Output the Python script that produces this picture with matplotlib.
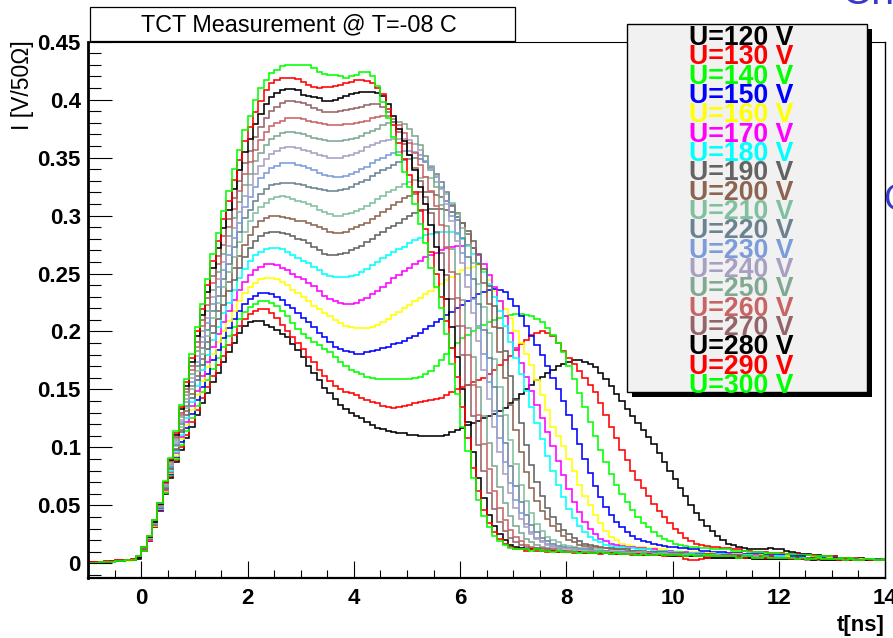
import numpy as np
import matplotlib
matplotlib.use("Agg")
import matplotlib.pyplot as plt
from matplotlib.patches import Rectangle
from matplotlib.ticker import MultipleLocator, FixedLocator, FuncFormatter

plt.rcParams['font.family'] = ['Liberation Sans', 'DejaVu Sans']

# ---- data: current I [mV/50Ohm] in 0.1 ns bins from t=-1.0 to 14.0 ns ----
t_start = -1.0
bin_width = 0.1
voltages = [120, 130, 140, 150, 160, 170, 180, 190, 200, 210, 220, 230, 240, 250, 260, 270, 280, 290, 300]

u120 = [0,1,1,1,2,2,2,3,3,4,
        11,19,31,45,60,74,87,98,108,118,
        128,138,147,156,164,174,182,190,199,205,
        208,209,209,206,204,201,198,195,189,184,
        178,170,164,158,151,147,142,137,133,130,
        127,125,122,119,117,116,114,113,112,112,
        111,111,110,110,110,110,110,111,113,115,
        117,119,121,123,125,127,129,131,134,138,
        142,146,150,154,158,161,164,167,170,172,
        174,175,175,174,172,169,164,159,153,146,
        140,133,127,121,115,109,103,95,87,80,
        73,65,58,50,43,37,32,28,24,20,
        17,16,14,13,12,12,12,12,13,12,
        12,11,10,9,8,8,7,7,6,6,
        6,5,5,5,4,5,4,4,4,4]
u130 = [1,1,1,2,2,3,3,3,4,5,
        11,19,31,45,61,75,89,100,111,122,
        132,143,152,162,171,179,188,197,205,211,
        215,218,219,219,216,212,206,200,195,190,
        185,178,174,167,162,157,153,150,148,147,
        145,143,141,139,138,136,135,134,135,136,
        137,138,139,140,141,142,143,145,148,150,
        152,154,156,158,160,163,167,171,175,179,
        184,189,193,197,199,200,199,196,190,183,
        177,172,166,160,154,148,138,128,118,108,
        98,89,80,72,65,58,51,45,40,35,
        30,26,22,19,17,16,15,14,14,13,
        13,12,12,11,11,10,10,10,9,9,
        9,8,8,8,7,7,7,6,6,6,
        6,5,5,5,5,4,4,4,4,4]
u140 = [0,0,1,1,2,2,2,3,3,5,
        11,20,32,46,61,76,90,102,114,125,
        136,148,158,168,177,187,196,204,211,217,
        221,224,226,226,225,222,218,213,207,202,
        198,194,191,188,185,182,178,174,170,167,
        165,163,161,160,159,159,159,159,159,159,
        159,160,161,163,166,170,175,181,186,190,
        194,197,200,203,206,208,210,212,213,214,
        215,215,214,213,211,208,203,197,190,182,
        170,159,147,135,122,110,98,87,77,68,
        60,53,46,40,35,31,27,24,21,19,
        17,16,15,14,14,13,13,12,12,12,
        12,11,11,11,10,10,10,9,9,9,
        8,8,8,7,7,7,6,6,6,6,
        5,5,5,5,4,4,4,4,4,4]
u150 = [1,0,1,1,1,2,2,3,3,5,
        12,20,32,46,62,77,92,105,117,129,
        141,152,163,175,184,194,203,211,218,224,
        228,231,233,233,232,230,227,223,220,216,
        212,208,204,199,195,191,187,185,183,182,
        181,181,182,183,184,186,187,189,190,192,
        194,196,199,202,205,208,211,214,217,220,
        223,226,229,232,234,236,237,236,234,228,
        222,213,205,196,188,180,170,160,150,140,
        128,116,103,90,78,67,57,49,42,36,
        31,27,24,21,19,18,17,16,15,14,
        14,13,13,12,12,11,11,10,10,10,
        9,9,9,8,8,8,8,7,7,7,
        7,6,6,6,6,5,5,5,5,5,
        5,4,4,4,4,4,4,3,4,3]
u160 = [0,1,1,1,2,2,3,2,3,5,
        12,20,32,47,62,78,93,107,119,132,
        145,157,169,181,191,200,209,218,226,233,
        238,242,245,246,246,245,243,240,236,233,
        230,226,222,219,216,213,210,207,205,204,
        203,203,203,204,206,208,211,214,217,220,
        223,226,229,232,235,238,241,244,247,250,
        253,255,256,257,252,244,235,226,219,212,
        200,190,181,171,158,145,132,118,110,101,
        90,80,68,58,50,42,35,28,23,20,
        17,16,15,14,14,13,13,12,12,11,
        11,11,10,10,10,9,9,9,8,8,
        8,8,8,7,7,7,7,6,6,6,
        6,6,5,5,5,5,5,4,4,5,
        4,4,4,4,3,4,3,3,3,3]
u170 = [1,1,1,2,2,2,3,3,3,5,
        12,20,33,47,63,79,95,109,122,136,
        149,162,174,187,198,208,218,227,236,243,
        249,253,256,258,258,257,255,253,250,247,
        245,242,239,235,231,228,226,225,224,224,
        225,227,229,232,235,238,242,246,249,252,
        255,258,261,264,266,268,270,272,273,274,
        274,275,272,266,258,249,238,226,213,199,
        186,173,161,149,137,125,113,101,88,76,
        64,53,44,36,30,25,21,19,17,16,
        15,14,14,13,13,12,12,11,11,11,
        10,10,10,9,9,9,8,8,8,8,
        8,7,7,7,7,7,6,6,6,6,
        6,5,5,5,5,5,5,4,4,4,
        4,4,4,4,3,3,4,3,3,3]
u180 = [0,1,1,2,2,2,3,3,3,5,
        12,21,33,47,64,80,96,111,125,139,
        153,167,180,193,204,216,225,236,246,254,
        261,266,269,271,272,272,271,269,266,263,
        261,259,256,253,250,248,247,247,247,248,
        249,251,254,257,260,263,266,269,271,273,
        276,279,281,283,284,285,286,286,286,284,
        280,274,267,259,251,241,230,218,205,191,
        177,163,149,135,121,107,93,80,68,57,
        47,39,32,27,23,20,18,16,15,14,
        14,13,13,12,12,12,11,11,11,10,
        10,10,9,9,9,9,8,8,8,8,
        7,7,7,7,7,6,6,6,6,6,
        6,5,5,5,5,5,4,5,4,4,
        4,4,4,3,4,3,3,4,3,3]
u190 = [1,1,1,1,2,2,2,3,3,5,
        12,21,33,48,64,81,98,113,128,143,
        158,171,185,199,211,223,235,244,255,264,
        272,278,282,285,286,286,285,284,282,280,
        279,276,273,270,267,266,266,267,268,270,
        272,274,277,280,283,286,289,291,294,297,
        300,302,304,305,306,306,306,305,303,299,
        294,287,278,267,254,239,222,203,183,162,
        141,121,102,85,70,58,48,40,34,29,
        25,22,19,17,16,15,14,13,13,12,
        12,12,11,11,11,10,10,10,10,9,
        9,9,9,8,8,8,8,8,7,7,
        7,7,7,6,6,6,6,6,6,5,
        5,5,5,5,5,5,4,4,4,4,
        4,4,4,3,4,3,3,3,4,3]
u200 = [1,0,1,1,2,2,3,3,3,5,
        12,21,34,48,65,82,99,115,131,146,
        162,176,191,205,218,231,243,255,265,275,
        283,290,295,298,300,300,299,298,297,295,
        295,294,292,290,288,286,285,285,286,288,
        290,292,294,297,300,303,306,309,312,315,
        317,319,320,320,320,318,316,313,308,302,
        294,284,272,258,242,224,204,182,160,137,
        115,96,79,65,54,45,38,32,28,24,
        20,18,16,15,14,14,13,13,12,12,
        12,11,11,11,10,10,10,10,9,9,
        9,9,8,8,8,8,8,7,7,7,
        7,7,6,6,6,6,6,6,5,5,
        5,5,5,5,5,4,4,4,4,4,
        4,4,3,4,3,3,3,3,3,3]
u210 = [0,1,1,1,1,2,2,3,3,5,
        13,22,34,49,66,83,101,118,134,150,
        166,181,196,212,225,238,251,264,277,286,
        295,302,307,311,314,316,317,316,314,313,
        312,310,308,305,303,301,300,300,301,302,
        304,306,308,311,314,317,320,322,325,327,
        329,331,332,333,332,329,325,319,311,301,
        289,275,259,241,221,199,176,152,128,106,
        86,68,54,43,34,28,23,20,18,16,
        15,14,13,13,12,12,12,11,11,11,
        11,10,10,10,10,9,9,9,9,8,
        8,8,8,8,7,7,7,7,7,6,
        6,6,6,6,6,6,5,5,5,5,
        5,5,5,4,5,4,4,4,4,4,
        4,3,4,3,3,3,3,3,3,3]
u220 = [1,1,1,2,2,2,3,3,3,5,
        13,22,34,49,66,83,102,120,136,153,
        170,186,201,218,231,245,258,273,286,298,
        305,313,319,323,326,327,328,328,328,327,
        326,325,324,323,322,321,321,322,323,325,
        327,329,331,334,337,339,341,344,346,348,
        349,350,349,346,342,336,329,320,309,296,
        281,264,245,224,201,177,152,127,104,84,
        67,53,42,33,27,22,19,17,15,14,
        13,13,12,12,12,11,11,11,10,10,
        10,10,10,9,9,9,9,8,8,8,
        8,8,7,7,7,7,7,6,6,6,
        6,6,6,6,5,5,5,5,5,5,
        5,5,4,4,4,4,4,4,4,4,
        4,3,3,3,3,3,3,3,3,3]
u230 = [0,1,1,1,2,2,2,3,3,5,
        13,22,35,49,67,84,103,122,139,156,
        174,191,207,224,238,253,266,281,294,307,
        316,325,332,337,341,343,345,345,345,344,
        343,341,339,337,335,334,333,333,334,336,
        338,340,342,345,348,350,352,354,355,356,
        356,355,352,347,341,333,324,313,300,285,
        268,249,228,205,181,156,131,108,87,69,
        55,43,34,27,22,19,17,15,14,13,
        13,12,12,12,11,11,11,10,10,10,
        10,9,9,9,9,9,8,8,8,8,
        8,7,7,7,7,7,6,6,6,6,
        6,6,5,5,5,5,5,5,5,5,
        4,4,4,4,4,4,4,4,4,4,
        3,3,3,3,3,3,3,3,3,3]
u240 = [1,1,1,1,2,2,3,3,3,5,
        13,22,35,50,67,85,105,124,142,160,
        179,195,212,230,245,260,274,289,303,317,
        326,336,343,349,353,356,358,359,359,358,
        357,356,354,352,351,350,350,350,351,352,
        354,356,359,361,363,364,365,366,366,366,
        365,362,357,351,343,334,323,310,295,278,
        259,238,216,192,167,142,118,96,77,61,
        48,38,31,25,21,18,16,14,13,12,
        12,12,11,11,11,10,10,10,10,9,
        9,9,9,9,8,8,8,8,8,7,
        7,7,7,7,7,6,6,6,6,6,
        6,5,5,5,5,5,5,5,4,4,
        4,4,4,4,4,4,4,4,3,4,
        3,3,3,3,3,3,3,3,3,3]
u250 = [1,0,1,1,2,2,2,3,3,5,
        13,23,35,50,68,86,106,126,145,163,
        183,200,218,236,251,267,282,298,312,326,
        336,347,354,361,366,369,371,372,372,371,
        370,369,367,366,365,364,364,364,365,366,
        367,369,371,373,375,378,380,381,381,379,
        375,369,361,351,339,325,309,291,271,250,
        227,203,178,152,127,104,84,66,52,41,
        32,26,21,18,16,14,13,12,12,11,
        11,11,10,10,10,10,9,9,9,9,
        9,8,8,8,8,8,7,7,7,7,
        7,7,6,6,6,6,6,6,5,5,
        5,5,5,5,5,5,4,4,4,4,
        4,4,4,4,4,4,4,3,4,3,
        3,3,3,3,3,3,3,3,3,3]
u260 = [1,1,1,2,2,2,3,3,4,5,
        13,23,36,50,69,87,108,128,148,167,
        187,205,223,242,258,275,290,306,321,336,
        346,357,365,372,377,380,382,384,384,384,
        383,382,381,380,379,378,378,378,379,379,
        380,381,382,384,385,386,386,383,378,371,
        363,354,344,333,321,308,292,273,251,229,
        205,180,154,128,103,81,62,48,37,29,
        23,19,16,14,13,13,12,12,11,11,
        11,10,10,10,10,9,9,9,9,9,
        8,8,8,8,8,7,7,7,7,7,
        7,6,6,6,6,6,6,5,5,5,
        5,5,5,5,5,5,4,4,4,4,
        4,4,4,4,4,4,3,4,3,3,
        3,3,3,3,3,3,3,3,3,3]
u270 = [0,1,1,1,2,2,2,3,3,5,
        13,23,36,51,69,88,109,130,150,170,
        191,210,229,248,265,282,297,315,330,345,
        356,368,376,384,390,394,397,399,399,398,
        397,395,393,391,389,389,389,390,391,392,
        393,394,395,396,396,394,389,381,372,362,
        352,341,330,316,302,286,268,249,228,205,
        180,154,127,102,80,61,47,36,28,22,
        18,16,14,13,13,12,12,11,11,11,
        10,10,10,10,9,9,9,9,9,8,
        8,8,8,8,7,7,7,7,7,7,
        6,6,6,6,6,6,5,5,5,5,
        5,5,5,5,5,4,4,4,4,4,
        4,4,4,4,4,3,4,3,3,3,
        3,3,3,3,3,3,3,3,3,3]
u280 = [1,0,1,1,2,2,2,3,3,5,
        14,23,36,51,70,89,111,133,153,174,
        196,214,234,255,272,289,305,323,339,355,
        366,379,388,396,402,406,408,409,409,408,
        404,403,402,401,399,399,400,401,403,405,
        406,407,407,407,406,403,396,386,375,364,
        352,339,325,310,292,273,253,228,204,178,
        150,122,96,74,56,42,32,25,20,16,
        14,13,12,12,12,11,11,11,10,10,
        10,10,10,9,9,9,9,9,8,8,
        8,8,8,7,7,7,7,7,7,6,
        6,6,6,6,6,6,5,5,5,5,
        5,5,5,5,5,4,4,4,4,4,
        4,4,4,4,4,4,3,4,3,3,
        3,3,3,3,3,3,3,3,3,3]
u290 = [1,1,1,2,2,3,3,3,4,6,
        14,24,37,52,70,90,112,135,156,177,
        200,219,240,261,278,297,313,331,348,364,
        376,389,399,408,414,417,419,419,419,418,
        415,413,411,410,411,411,412,413,414,415,
        417,417,416,414,410,405,392,378,363,349,
        335,320,305,288,269,250,230,209,186,161,
        135,108,82,62,46,35,27,21,17,14,
        12,12,11,12,11,11,10,11,10,10,
        10,9,10,9,9,9,8,9,9,8,
        8,8,7,8,7,8,7,7,6,7,
        7,6,4,3,3,4,5,6,6,6,
        6,6,6,5,6,5,5,5,6,5,
        5,5,4,5,4,4,5,4,4,4,
        4,3,4,3,3,3,4,3,3,3]
u300 = [0,0,1,1,1,2,2,3,3,6,
        14,24,37,52,71,91,114,137,159,181,
        204,224,245,267,285,304,321,340,357,374,
        386,400,410,417,423,426,429,430,430,430,
        430,430,427,424,422,421,421,420,419,420,
        421,424,424,420,412,398,384,368,352,338,
        325,310,293,276,255,238,220,198,172,146,
        118,97,74,55,41,31,24,19,16,13,
        12,12,12,11,12,11,11,10,11,10,
        10,10,9,10,9,9,10,9,8,9,
        8,8,8,7,8,7,7,8,7,7,
        7,7,6,7,6,6,7,6,6,6,
        6,6,5,6,6,5,5,6,5,5,
        5,5,5,4,5,4,4,5,4,4,
        4,4,3,4,3,3,4,4,3,3]

series = [u120, u130, u140, u150, u160, u170, u180, u190, u200, u210,
          u220, u230, u240, u250, u260, u270, u280, u290, u300]
colors = ['#000000', '#ff0000', '#00ff00', '#0000ff', '#ffff00', '#ff00ff', '#00ffff',
          '#636363', '#8c6450', '#80c0a0', '#6b8290', '#7b9bd9', '#a8a0c2', '#80a892',
          '#c86464', '#946468', '#000000', '#ff0000', '#00ff00']
labels = ['U=%d V' % v for v in voltages]

title_text = 'TCT Measurement @ T=-08 C'
xlabel_text = 't[ns]'
ylabel_text = 'I [V/50\u03a9]'

# ---- figure ----
W, H = 893, 638
fig = plt.figure(figsize=(W / 100, H / 100), dpi=100)
fig.patch.set_facecolor('white')

def fx(px):
    return px / W

def fy(py):
    return 1 - py / H

ax_l, ax_r, ax_t, ax_b = 88.3, 885.0, 41.7, 577.7
ax = fig.add_axes([fx(ax_l), fy(ax_b), (ax_r - ax_l) / W, (ax_b - ax_t) / H])

for vals, col in zip(series, colors):
    v = np.asarray(vals, dtype=float) / 1000.0
    edges = t_start + bin_width * np.arange(len(v) + 1)
    ax.stairs(v, edges, color=col, lw=1.15, baseline=None)

ax.set_xlim(-1, 14)
ax.set_ylim(-0.0124, 0.45)

ax.xaxis.set_major_locator(FixedLocator(np.arange(0, 15, 2)))
ax.xaxis.set_minor_locator(MultipleLocator(0.5))
ax.yaxis.set_major_locator(MultipleLocator(0.05))
ax.yaxis.set_minor_locator(MultipleLocator(0.01))
ax.xaxis.set_major_formatter(FuncFormatter(lambda x, p: '%g' % x))
ax.yaxis.set_major_formatter(FuncFormatter(lambda y, p: '%g' % round(y, 3)))

ax.tick_params(axis='both', which='both', direction='in', top=False, right=False,
               width=0.8, colors='black')
ax.tick_params(axis='y', which='major', length=17.5, pad=5.5, labelsize=16)
ax.tick_params(axis='y', which='minor', length=9.5)
ax.tick_params(axis='x', which='major', length=12, pad=7.5, labelsize=16)
ax.tick_params(axis='x', which='minor', length=6)
for lab in ax.get_xticklabels() + ax.get_yticklabels():
    lab.set_fontweight('bold')

ax.spines['left'].set_linewidth(2.0)
ax.spines['bottom'].set_linewidth(1.6)
ax.spines['right'].set_linewidth(1.0)
ax.spines['top'].set_linewidth(0.8)

# axis titles (ROOT style, aligned to the axis ends)
fig.text(fx(23), fy(40), ylabel_text, rotation=90, ha='center', va='top',
         fontsize=16.5)
fig.text(fx(885), fy(631.5), xlabel_text, ha='right', va='baseline',
         fontsize=16, fontweight='bold')

# title box
fig.add_artist(Rectangle((fx(90), fy(40.5)), (515 - 90) / W, (40.5 - 7.3) / H,
                         transform=fig.transFigure, facecolor='white',
                         edgecolor='black', lw=0.9, zorder=5))
fig.text(fx(298.5), fy(31.7), title_text, ha='center', va='baseline',
         fontsize=16.8, zorder=6)

# legend box with shadow
lx0, lx1, ly0, ly1 = 626.7, 866.7, 24.0, 391.7
fig.add_artist(Rectangle((fx(lx0 + 5), fy(ly1 + 5)), (lx1 - lx0) / W, (ly1 - ly0) / H,
                         transform=fig.transFigure, facecolor='black',
                         edgecolor='none', zorder=7))
fig.add_artist(Rectangle((fx(lx0), fy(ly1)), (lx1 - lx0) / W, (ly1 - ly0) / H,
                         transform=fig.transFigure, facecolor='#f1f1f1',
                         edgecolor='black', lw=1.0, zorder=8))
step = (393.0 - 45.0) / 18
for k, (lab, col) in enumerate(zip(labels, colors)):
    fig.text(fx(741.5), fy(45.0 + k * step), lab, ha='center', va='baseline',
             color=col, fontsize=19.2, fontweight='bold', zorder=9)

# fragments of slide text at the picture edges (cut off in the reference too)
fig.text(fx(842), fy(4.5), 'Ch', color='#3838c8', fontsize=30, ha='left',
         va='baseline', zorder=1)
fig.text(fx(883), fy(200), 'C', color='#3838c8', fontsize=26, ha='left',
         va='center', zorder=1)

fig.savefig('out.png', dpi=100, facecolor='white')
